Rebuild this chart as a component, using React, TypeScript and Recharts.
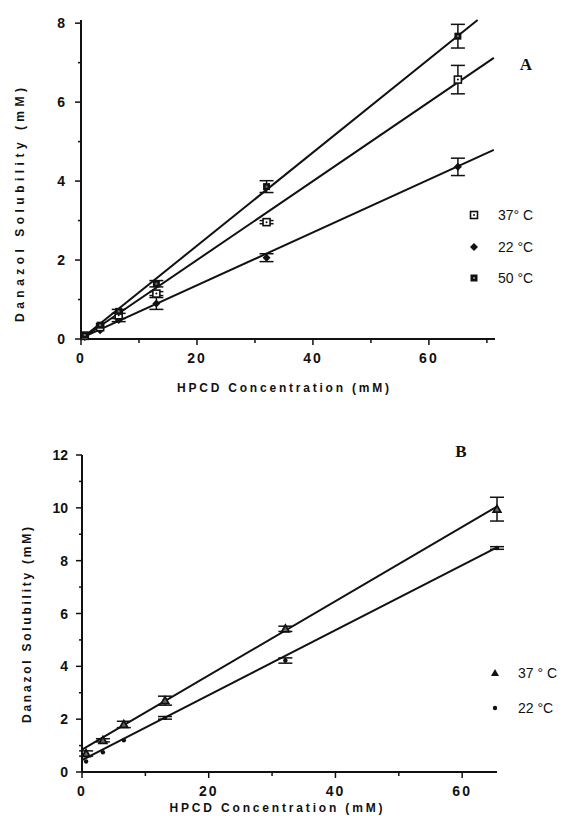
import React from "react";
import { ComposedChart, Line, Scatter, XAxis, YAxis, ErrorBar } from "recharts";

// ---- panel A: HPCD concentration (mM) vs danazol solubility (mM)
const concA = [0.65, 3.3, 6.5, 13, 32, 65];
const sol37A = [0.08, 0.3, 0.6, 1.15, 2.96, 6.57];
const err37A = [0, 0, 0, 0.05, 0.04, 0.36];
const sol22A = [0.05, 0.22, 0.48, 0.9, 2.06, 4.36];
const err22A = [0, 0, 0.04, 0.15, 0.1, 0.22];
const sol50A = [0.1, 0.35, 0.7, 1.4, 3.86, 7.67];
const err50A = [0, 0, 0.05, 0.08, 0.15, 0.3];
// regression lines, end points
const fit37A = [[0, 0.0], [71.2, 7.12]];
const fit22A = [[0, 0.02], [71.2, 4.79]];
const fit50A = [[0, 0.0], [68.4, 8.08]];
const xTicksA = [0, 10, 20, 30, 40, 50, 60, 70];
const yTicksA = [0, 1, 2, 3, 4, 5, 6, 7, 8];

// ---- panel B
const concB = [0.65, 3.3, 6.6, 13.1, 32.1, 65.5];
const sol37B = [0.7, 1.2, 1.8, 2.7, 5.42, 9.95];
const err37B = [0.1, 0.06, 0.12, 0.17, 0.1, 0.45];
const sol22B = [0.4, 0.75, 1.2, 2.05, 4.22, 8.48];
const err22B = [0, 0, 0, 0.05, 0.1, 0.05];
const fit37B = [[0, 0.85], [65.5, 10.05]];
const fit22B = [[0, 0.45], [65.5, 8.5]];
const xTicksB = [0, 10, 20, 30, 40, 50, 60];
const yTicksB = [0, 1, 2, 3, 4, 5, 6, 7, 8, 9, 10, 11, 12];

const INK = "#111";
const SANS = "'Liberation Sans', Arial, sans-serif";

const rows = (xs: number[], ys: number[], es: number[]) =>
  xs.map((x, i) => ({ x, y: ys[i], e: es[i] }));
const fitRows = (f: number[][]) => f.map(([x, y]) => ({ x, y }));

const tickFont = { fontFamily: SANS, fontWeight: 700, fontSize: 14, fill: INK };

const yTick = (step: number, offset: number) => (p: any) => {
  const v = p.payload.value;
  const major = v % step === 0;
  return (
    <g>
      <line x1={p.x} x2={p.x - (major ? 6 : 3)} y1={p.y} y2={p.y} stroke={INK} strokeWidth={1.5} />
      {major && (
        <text x={p.x - offset} y={p.y} textAnchor="end" dominantBaseline="central" style={tickFont}>
          {v}
        </text>
      )}
    </g>
  );
};

const xTick = (p: any) => {
  const v = p.payload.value;
  const major = v % 20 === 0;
  return (
    <g>
      <line x1={p.x} x2={p.x} y1={p.y} y2={p.y + (major ? 6 : 4)} stroke={INK} strokeWidth={1.5} />
      {major && (
        <text x={p.x} y={p.y + 19} textAnchor="middle" dominantBaseline="central" style={{ ...tickFont, letterSpacing: 2 }}>
          {v}
        </text>
      )}
    </g>
  );
};

// markers
const openSquare = (p: any) => (
  <g>
    <rect x={p.cx - 3.5} y={p.cy - 3.5} width={7} height={7} fill="#fff" stroke={INK} strokeWidth={1.6} />
    <circle cx={p.cx} cy={p.cy} r={1} fill={INK} />
  </g>
);
const filledSquare = (p: any) => (
  <g>
    <rect x={p.cx - 3.5} y={p.cy - 3.5} width={7} height={7} fill={INK} />
    <rect x={p.cx - 1} y={p.cy - 1} width={2} height={2} fill="#777" />
  </g>
);
const diamond = (p: any) => (
  <polygon points={`${p.cx},${p.cy - 4} ${p.cx + 4},${p.cy} ${p.cx},${p.cy + 4} ${p.cx - 4},${p.cy}`} fill={INK} />
);
const triangle = (p: any) => (
  <polygon
    points={`${p.cx},${p.cy - 3.8} ${p.cx + 3.8},${p.cy + 3} ${p.cx - 3.8},${p.cy + 3}`}
    fill="#666"
    stroke={INK}
    strokeWidth={1.8}
  />
);
const solidTriangle = (p: any) => (
  <polygon
    points={`${p.cx},${p.cy - 4} ${p.cx + 4},${p.cy + 3} ${p.cx - 4},${p.cy + 3}`}
    fill={INK}
  />
);
const dot = (p: any) => <circle cx={p.cx} cy={p.cy} r={2.2} fill={INK} />;

const fitLine = (f: number[][], key: string) => (
  <Line
    key={key}
    data={fitRows(f)}
    dataKey="y"
    type="linear"
    stroke={INK}
    strokeWidth={2}
    dot={false}
    activeDot={false}
    isAnimationActive={false}
  />
);

const series = (data: any[], shape: any, key: string) => (
  <Scatter key={key} data={data} dataKey="y" shape={shape} isAnimationActive={false}>
    <ErrorBar dataKey="e" direction="y" width={7} stroke={INK} strokeWidth={1.5} />
  </Scatter>
);

function LegendRow({ x, y, tx, label, shape }: any) {
  return (
    <>
      <svg style={{ position: "absolute", left: x - 6, top: y - 6 }} width={12} height={12}>
        {shape({ cx: 6, cy: 6 })}
      </svg>
      <div
        style={{
          position: "absolute",
          left: tx,
          top: y - 9,
          fontFamily: SANS,
          fontSize: 14,
          lineHeight: "18px",
          color: INK,
          whiteSpace: "pre",
        }}
      >
        {label}
      </div>
    </>
  );
}

const titleStyle = { fontFamily: SANS, fontWeight: 700, fontSize: 12, fill: INK };

export default function App() {
  return (
    <div style={{ position: "absolute", left: 0, top: 0, width: 565, height: 816, background: "#fff" }}>
      {/* Panel A */}
      <div style={{ position: "absolute", left: 0, top: 0 }}>
        <ComposedChart width={565} height={400} margin={{ top: 20, left: 41, right: 70, bottom: 31 }}>
          <XAxis
            type="number"
            dataKey="x"
            domain={[0, 71.4]}
            ticks={xTicksA}
            interval={0}
            height={30}
            tickSize={0}
            tickMargin={0}
            tickLine={false}
            tick={xTick}
            axisLine={{ stroke: INK, strokeWidth: 2 }}
          />
          <YAxis
            type="number"
            domain={[0, 8]}
            ticks={yTicksA}
            interval={0}
            width={40}
            tickSize={0}
            tickMargin={0}
            tickLine={false}
            tick={yTick(2, 16)}
            axisLine={{ stroke: INK, strokeWidth: 2 }}
          />
          {fitLine(fit50A, "f50")}
          {fitLine(fit37A, "f37")}
          {fitLine(fit22A, "f22")}
          {series(rows(concA, sol22A, err22A), diamond, "s22")}
          {series(rows(concA, sol37A, err37A), openSquare, "s37")}
          {series(rows(concA, sol50A, err50A), filledSquare, "s50")}
        </ComposedChart>
        <svg style={{ position: "absolute", left: 0, top: 0, pointerEvents: "none" }} width={565} height={400}>
          <text x={283} y={388} textAnchor="middle" dominantBaseline="central" textLength={212} style={titleStyle}>
            HPCD  Concentration  (mM)
          </text>
          <text
            x={20}
            y={205}
            transform="rotate(-90 20 205)"
            textAnchor="middle"
            dominantBaseline="central"
            textLength={234}
            style={titleStyle}
          >
            Danazol  Solubility  (mM)
          </text>
          <text
            x={526}
            y={64}
            textAnchor="middle"
            dominantBaseline="central"
            style={{ fontFamily: "'Liberation Serif', serif", fontWeight: 700, fontSize: 17, fill: INK }}
          >
            A
          </text>
        </svg>
        <LegendRow x={474} y={215} tx={498} label={"37° C"} shape={openSquare} />
        <LegendRow x={474} y={247} tx={498} label={"22 °C"} shape={diamond} />
        <LegendRow x={474} y={278} tx={498} label={"50 °C"} shape={filledSquare} />
      </div>

      {/* Panel B */}
      <div style={{ position: "absolute", left: 0, top: 400 }}>
        <ComposedChart width={565} height={416} margin={{ top: 55, left: 42, right: 68, bottom: 14 }}>
          <XAxis
            type="number"
            dataKey="x"
            domain={[0, 65.4]}
            ticks={xTicksB}
            interval={0}
            height={30}
            tickSize={0}
            tickMargin={0}
            tickLine={false}
            tick={xTick}
            axisLine={{ stroke: INK, strokeWidth: 2 }}
          />
          <YAxis
            type="number"
            domain={[0, 12]}
            ticks={yTicksB}
            interval={0}
            width={40}
            tickSize={0}
            tickMargin={0}
            tickLine={false}
            tick={yTick(2, 14)}
            axisLine={{ stroke: INK, strokeWidth: 2 }}
          />
          {fitLine(fit37B, "g37")}
          {fitLine(fit22B, "g22")}
          {series(rows(concB, sol22B, err22B), dot, "t22")}
          {series(rows(concB, sol37B, err37B), triangle, "t37")}
        </ComposedChart>
        <svg style={{ position: "absolute", left: 0, top: 0, pointerEvents: "none" }} width={565} height={416}>
          <text x={276} y={408} textAnchor="middle" dominantBaseline="central" textLength={213} style={titleStyle}>
            HPCD  Concentration  (mM)
          </text>
          <text
            x={27}
            y={225}
            transform="rotate(-90 27 225)"
            textAnchor="middle"
            dominantBaseline="central"
            textLength={196}
            style={titleStyle}
          >
            Danazol  Solubility  (mM)
          </text>
          <text
            x={461}
            y={51}
            textAnchor="middle"
            dominantBaseline="central"
            style={{ fontFamily: "'Liberation Serif', serif", fontWeight: 700, fontSize: 17, fill: INK }}
          >
            B
          </text>
        </svg>
        <LegendRow x={495} y={273} tx={518} label={"37 ° C"} shape={solidTriangle} />
        <LegendRow x={495} y={308} tx={518} label={"22 °C"} shape={dot} />
      </div>
    </div>
  );
}
